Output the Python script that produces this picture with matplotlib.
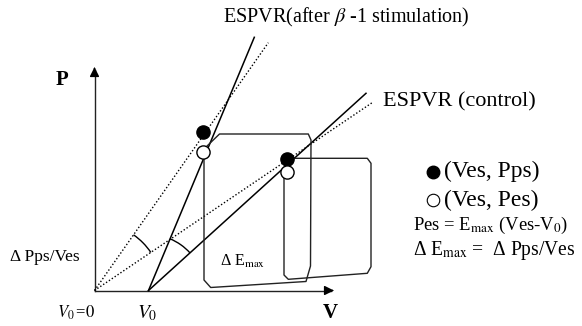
import matplotlib
matplotlib.use("Agg")
import matplotlib.pyplot as plt
from matplotlib.patches import Arc
import numpy as np

plt.rcParams['font.family'] = ['Liberation Serif', 'DejaVu Serif']
plt.rcParams['mathtext.fontset'] = 'stix'

# 示意图数据 (V, P), 任意单位
v0 = 54.0
espvr_after = ([v0, 159.8], [0, 253.2])      # 实线, beta-1 刺激后
espvr_ctrl = ([v0, 271.5], [0, 197.2])       # 实线, 对照
dot_after = ([0, 173.8], [0, 247.8])         # 点线, 过原点
dot_ctrl = ([0, 278.2], [0, 188.2])

# (Ves, Pps) 实心点, (Ves, Pes) 空心点
ves = [108.8, 192.2]
pps = [158.2, 131.5]
pes = [138.2, 118.2]

# 压力-容积环
loop1_v = [109.5, 109.5, 116.2, 211.5, 216.0, 216.5, 213.8, 125.0, 110.5, 109.5]
loop1_p = [137.5, 10.5, 3.0, 9.0, 24.5, 150.5, 156.5, 156.5, 142.5, 137.5]
loop2_v = [189.5, 189.5, 193.8, 272.8, 276.5, 276.5, 272.8, 198.5, 192.5, 189.5]
loop2_p = [118.5, 15.5, 11.2, 17.2, 23.8, 127.2, 132.2, 132.2, 126.5, 118.5]

v_max, p_max = 242.2, 226.2

fig = plt.figure(figsize=(5.82, 3.26), dpi=100)
ax = fig.add_axes([0, 0, 1, 1])
ax.set_xlim(-94.5, 487.5)
ax.set_ylim(-35.5, 290.5)
ax.set_aspect('equal')
ax.axis('off')

# 坐标轴
ax.plot([0, v_max - 6], [0, 0], color='#222', lw=1.0)
ax.plot([0, 0], [0, p_max - 6], color='#222', lw=1.0)
ax.annotate('', xy=(v_max, 0), xytext=(v_max - 8, 0),
            arrowprops=dict(arrowstyle='-|>', mutation_scale=14, lw=1.0, color='black'))
ax.annotate('', xy=(0, p_max), xytext=(0, p_max - 8),
            arrowprops=dict(arrowstyle='-|>', mutation_scale=14, lw=1.0, color='black'))

ax.plot(*espvr_after, color='black', lw=1.1)
ax.plot(*espvr_ctrl, color='black', lw=1.1)
ax.plot(*dot_after, color='black', lw=1.0, ls=(0, (1, 1.5)))
ax.plot(*dot_ctrl, color='black', lw=1.0, ls=(0, (1, 1.5)))

ax.plot(loop1_v, loop1_p, color='#222', lw=1.0)
ax.plot(loop2_v, loop2_p, color='#222', lw=1.0)

# 角度弧
a1 = np.degrees(np.arctan2(dot_after[1][1], dot_after[0][1]))
a2 = np.degrees(np.arctan2(dot_ctrl[1][1], dot_ctrl[0][1]))
ax.add_patch(Arc((0, 0), 136, 136, theta1=a2, theta2=a1, color='black', lw=1.0))
b1 = np.degrees(np.arctan2(espvr_after[1][1], espvr_after[0][1] - v0))
b2 = np.degrees(np.arctan2(espvr_ctrl[1][1], espvr_ctrl[0][1] - v0))
ax.add_patch(Arc((v0, 0), 112, 112, theta1=b2, theta2=b1, color='black', lw=1.0))

ax.plot(ves, pps, 'o', ms=9.5, mfc='black', mec='black', mew=1.0, zorder=5)
ax.plot(ves, pes, 'o', ms=9.5, mfc='white', mec='black', mew=1.0, zorder=5)

fig.canvas.draw()
renderer = fig.canvas.get_renderer()


def fit_text(x, y, s, width_px, fs=14, **kw):
    # 按参考图中文字宽度调整字号
    t = ax.text(x, y, s, fontsize=fs, ha='left', va='center', **kw)
    w = t.get_window_extent(renderer).width
    if w > 0:
        t.set_fontsize(min(max(fs * width_px / w, 11), 17))
    return t


# 文字
ax.text(-32.5, 210.5, 'P', fontsize=15, fontweight='bold', ha='center', va='center')
ax.text(236, -22.5, 'V', fontsize=15, fontweight='bold', ha='center', va='center')
fit_text(-84.5, 33.8, 'Δ Pps/Ves', 70)
fit_text(125.5, 28.8, r'Δ E$_{\mathrm{max}}$', 45)
fit_text(-37.8, -22.8, r'$V_0\,$=$\mathit{0}$', 38)
ax.text(42.2, -22.8, r'$V_0$', fontsize=14, ha='left', va='center')
fit_text(128.5, 273.5, r'ESPVR(after $\beta$ -1 stimulation)', 247)
fit_text(288.2, 188.8, 'ESPVR (control)', 154)

ax.plot([338.8], [118.8], 'o', ms=9, mfc='black', mec='black')
ax.plot([338.8], [90.5], 'o', ms=9, mfc='white', mec='black', mew=0.8)
fit_text(349.5, 118.8, '(Ves, Pps)', 96)
fit_text(349.5, 90.5, '(Ves, Pes)', 96)
fit_text(318.8, 65.5, r'Pes = E$_{\mathrm{max}}$ (Ves-V$_{\mathrm{0}}$)', 156)
fit_text(318.5, 40.5, r'Δ E$_{\mathrm{max}}$ =  Δ Pps/Ves', 163)

fig.savefig('out.png', dpi=100, facecolor='white')
